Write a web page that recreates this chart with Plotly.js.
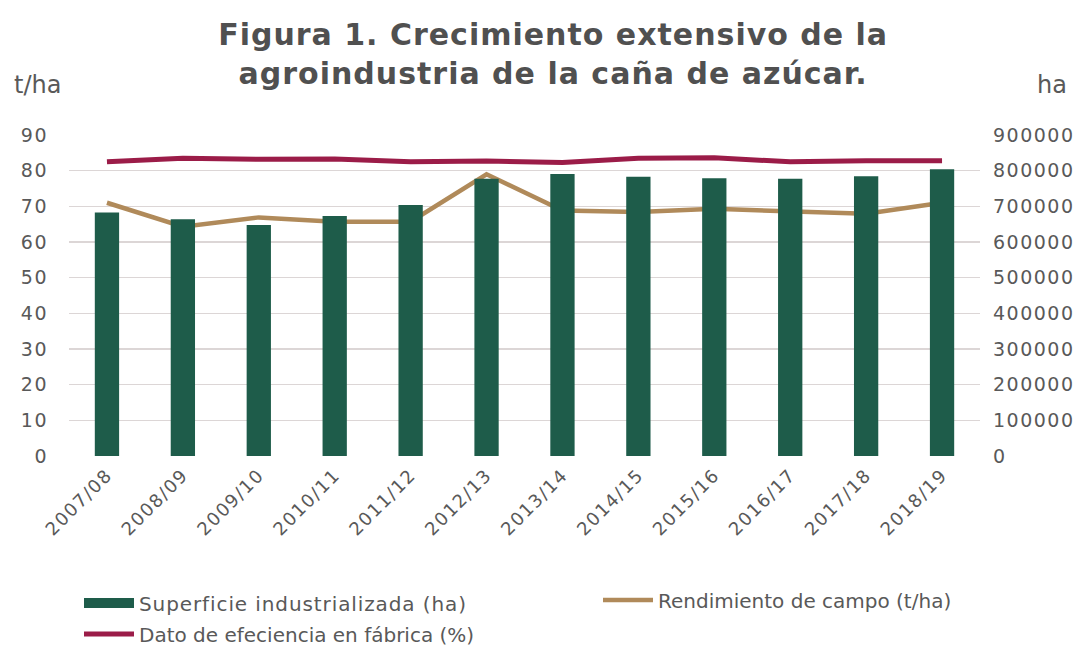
<!DOCTYPE html>
<html>
<head>
<meta charset="utf-8">
<script src="https://cdn.plot.ly/plotly-3.0.1.min.js"></script>
<style>
html,body{margin:0;padding:0;background:#fff;}
#chart{width:1091px;height:649px;}
g.xtick text, g.ytick text, g.y2tick text {letter-spacing:1.5px;}
text.legendtext {letter-spacing:0.9px;}
text.gtitle {letter-spacing:1px;}
</style>
</head>
<body>
<div id="chart"></div>
<script>
const categories = ["2007/08","2008/09","2009/10","2010/11","2011/12","2012/13","2013/14","2014/15","2015/16","2016/17","2017/18","2018/19"];
const superficie = [683000, 664000, 648000, 673000, 704000, 777000, 791000, 783000, 779000, 777000, 784000, 804000];
const rendimiento = [71.0, 64.3, 66.9, 65.7, 65.7, 79.0, 68.8, 68.4, 69.3, 68.7, 67.9, 71.0];
const eficiencia = [82.5, 83.5, 83.2, 83.3, 82.5, 82.7, 82.3, 83.5, 83.6, 82.5, 82.8, 82.8];

const txt = '#595959';
const fontFam = 'DejaVu Sans, sans-serif';
const green = '#1e5c4a', tan = '#b08a5a', maroon = '#9b1c48';

const traces = [
  {type:'bar', x:categories, y:superficie, yaxis:'y2', name:'Superficie industrializada (ha)',
   marker:{color:green}, showlegend:false, legendgroup:'sup'},
  {type:'scatter', mode:'lines', x:[null], y:[null], name:'Superficie industrializada (ha)',
   line:{color:green, width:12}, legend:'legend', legendgroup:'sup', hoverinfo:'skip'},
  {type:'scatter', mode:'lines', x:categories, y:rendimiento, yaxis:'y', name:'Rendimiento de campo (t/ha)',
   line:{color:tan, width:4.5}, legend:'legend2'},
  {type:'scatter', mode:'lines', x:categories, y:eficiencia, yaxis:'y', name:'Dato de efeciencia en fábrica (%)',
   line:{color:maroon, width:5}, legend:'legend3'}
];

const legBase = {orientation:'h', xref:'container', yref:'container', xanchor:'left', yanchor:'middle',
                 font:{size:20, color:txt}, itemwidth:50, bgcolor:'rgba(0,0,0,0)'};

const layout = {
  width:1091, height:649,
  paper_bgcolor:'#fff', plot_bgcolor:'#fff',
  font:{family:fontFam, color:txt, size:19},
  margin:{l:69, r:111, t:135, b:193},
  bargap:0.68,
  title:{text:'<b>Figura 1. Crecimiento extensivo de la<br>agroindustria de la caña de azúcar.</b>',
         x:0.507, xanchor:'center', y:0.93, yanchor:'top', yref:'container',
         font:{size:30, color:'#505050', family:fontFam}},
  xaxis:{type:'category', tickangle:-45, showgrid:false, showline:false, ticks:'',
         tickfont:{size:18, color:txt}, ticklabelstandoff:4},
  yaxis:{range:[0,90], dtick:10, showgrid:true, gridcolor:'#dcd6d6', gridwidth:1.5,
         zeroline:false, showline:false, ticks:'', tickfont:{size:19, color:txt},
         ticklabelstandoff:20},
  yaxis2:{range:[0,900000], dtick:100000, overlaying:'y', side:'right', showgrid:false,
          zeroline:false, showline:false, ticks:'', tickformat:'d',
          tickfont:{size:19, color:txt}, ticklabelstandoff:12},
  legend: Object.assign({}, legBase, {x:79/1091, y:(649-603)/649}),
  legend2: Object.assign({}, legBase, {x:598/1091, y:(649-600)/649}),
  legend3: Object.assign({}, legBase, {x:79/1091, y:(649-634)/649}),
  annotations:[
    {text:'t/ha', xref:'paper', yref:'paper', x:-0.0626, xanchor:'left', y:1.156, yanchor:'middle',
     showarrow:false, font:{size:24, color:txt}},
    {text:'ha', xref:'paper', yref:'paper', x:1.060, xanchor:'left', y:1.156, yanchor:'middle',
     showarrow:false, font:{size:24, color:txt}}
  ],
  showlegend:true
};

Plotly.newPlot('chart', traces, layout, {displayModeBar:false, staticPlot:true});
</script>
</body>
</html>
